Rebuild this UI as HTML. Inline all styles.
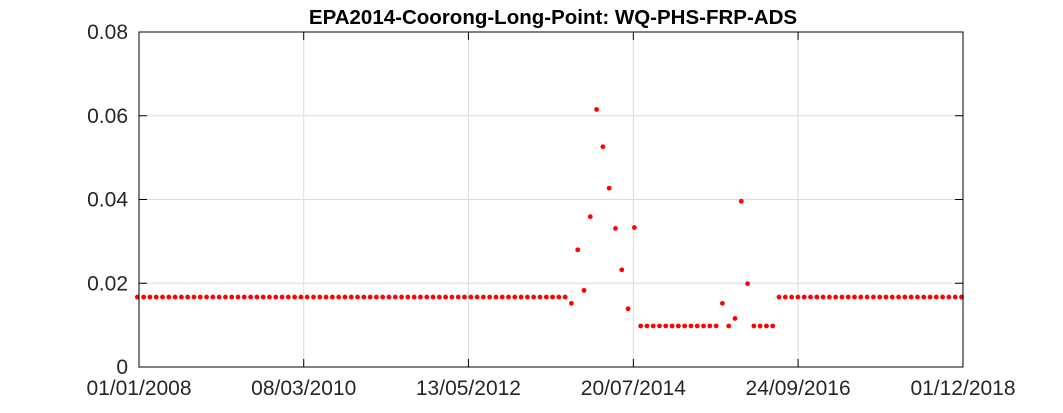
<!DOCTYPE html>
<html><head><meta charset="utf-8"><style>
html,body{margin:0;padding:0;background:#fff;}
svg{display:block;font-family:"Liberation Sans",sans-serif;}
</style></head><body>
<svg id="chart" width="1063" height="413">
<text x="553" y="24" text-anchor="middle" font-size="20.5" font-weight="bold" fill="#000">EPA2014-Coorong-Long-Point: WQ-PHS-FRP-ADS</text>
<g id="grid"></g>
<g id="marks"></g>
<rect x="139" y="32" width="824" height="335" fill="none" stroke="#000" stroke-width="1"/>
<g id="axes"></g>
</svg>
<script>
const yTicks=[0,0.02,0.04,0.06,0.08];
const yTickLabels=["0","0.02","0.04","0.06","0.08"];
const xTickDays=[0,797,1594,2392,3189,3987];
const xTickLabels=["01/01/2008","08/03/2010","13/05/2012","20/07/2014","24/09/2016","01/12/2018"];
const firstSampleDay=-8;
const sampleStepDays=30.44;
const values=[
0.0167,0.0167,0.0167,0.0167,0.0167,0.0167,0.0167,0.0167,0.0167,0.0167,
0.0167,0.0167,0.0167,0.0167,0.0167,0.0167,0.0167,0.0167,0.0167,0.0167,
0.0167,0.0167,0.0167,0.0167,0.0167,0.0167,0.0167,0.0167,0.0167,0.0167,
0.0167,0.0167,0.0167,0.0167,0.0167,0.0167,0.0167,0.0167,0.0167,0.0167,
0.0167,0.0167,0.0167,0.0167,0.0167,0.0167,0.0167,0.0167,0.0167,0.0167,
0.0167,0.0167,0.0167,0.0167,0.0167,0.0167,0.0167,0.0167,0.0167,0.0167,
0.0167,0.0167,0.0167,0.0167,0.0167,0.0167,0.0167,0.0167,0.0167,
0.0152,0.028,0.0183,0.0359,0.0615,0.0526,0.0427,0.0331,0.0232,0.0139,0.0333,
0.0098,0.0098,0.0098,0.0098,0.0098,0.0098,0.0098,0.0098,0.0098,0.0098,0.0098,0.0098,0.0098,
0.0152,0.0098,0.0116,0.0396,0.0199,0.0098,0.0098,0.0098,0.0098,
0.0167,0.0167,0.0167,0.0167,0.0167,0.0167,0.0167,0.0167,0.0167,0.0167,
0.0167,0.0167,0.0167,0.0167,0.0167,0.0167,0.0167,0.0167,0.0167,0.0167,
0.0167,0.0167,0.0167,0.0167,0.0167,0.0167,0.0167,0.0167,0.0167,0.0167
];
const NS="http://www.w3.org/2000/svg";
const L=139,R=963,T=32,B=367;
function xs(d){return L+(d-xTickDays[0])/(xTickDays[xTickDays.length-1]-xTickDays[0])*(R-L);}
function ys(v){return B-(v-yTicks[0])/(yTicks[yTicks.length-1]-yTicks[0])*(B-T);}
const grid=document.getElementById('grid'),axes=document.getElementById('axes'),marks=document.getElementById('marks');
function mk(tag,a,p){const e=document.createElementNS(NS,tag);for(const k in a)e.setAttribute(k,a[k]);p.appendChild(e);return e;}
yTicks.forEach((v,i)=>{const y=ys(v);
 if(i>0&&i<yTicks.length-1){const g=mk('line',{x1:L,x2:R,y1:y,y2:y,stroke:'#dcdcdc','stroke-width':1},grid);
 
 }
 const t1=mk('line',{x1:L,x2:L+8,y1:y,y2:y,stroke:'#000'},axes);
 
 
 const t2=mk('line',{x1:R-8,x2:R,y1:y,y2:y,stroke:'#000'},axes);
 
 
 const tx=mk('text',{x:L-11,y:y+7,'text-anchor':'end','font-size':21,fill:'#262626'},axes);tx.textContent=yTickLabels[i];
 
 
});
xTickDays.forEach((d,i)=>{const x=xs(d);
 if(i>0&&i<xTickDays.length-1){const g=mk('line',{x1:x,x2:x,y1:T,y2:B,stroke:'#dcdcdc','stroke-width':1},grid);
 
 }
 const t1=mk('line',{x1:x,x2:x,y1:B-8,y2:B,stroke:'#000'},axes);
 
 
 const t2=mk('line',{x1:x,x2:x,y1:T,y2:T+8,stroke:'#000'},axes);
 
 
 const tx=mk('text',{x:x,y:B+28,'text-anchor':'middle','font-size':21,fill:'#262626'},axes);tx.textContent=xTickLabels[i];
 
 
});
values.forEach((v,k)=>{const c=mk('circle',{cx:xs(firstSampleDay+k*sampleStepDays),cy:ys(v),r:2.4,fill:'#ff0000'},marks);
 
 
});
</script>
</body></html>
